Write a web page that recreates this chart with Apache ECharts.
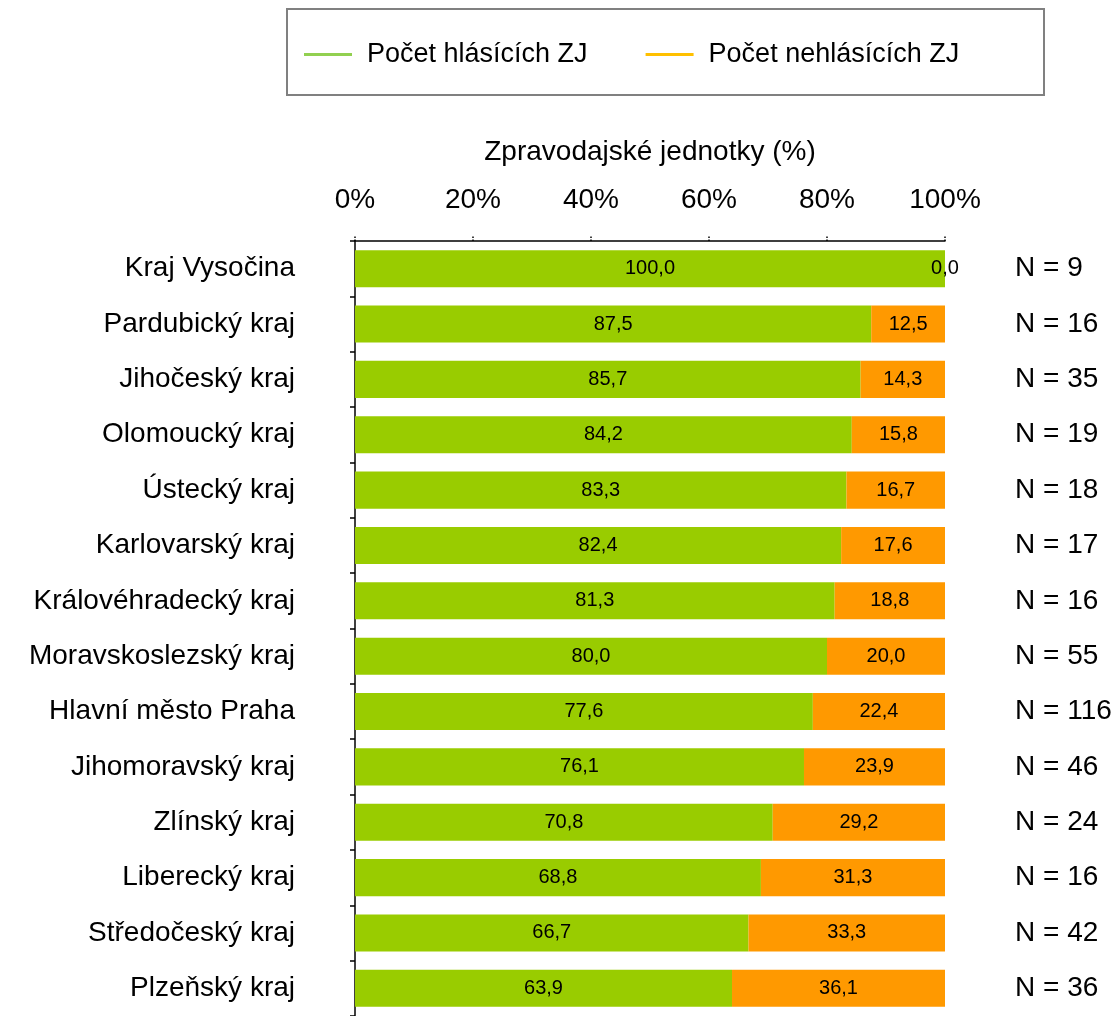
<!DOCTYPE html>
<html>
<head>
<meta charset="utf-8">
<script src="https://cdn.jsdelivr.net/npm/echarts@6/dist/echarts.min.js"></script>
<style>
  html, body { margin: 0; padding: 0; background: #fff; }
  #chart { width: 1119px; height: 1016px; }
</style>
</head>
<body>
<div id="chart"></div>
<script>
const categories = [
  "Kraj Vysočina", "Pardubický kraj", "Jihočeský kraj", "Olomoucký kraj",
  "Ústecký kraj", "Karlovarský kraj", "Královéhradecký kraj", "Moravskoslezský kraj",
  "Hlavní město Praha", "Jihomoravský kraj", "Zlínský kraj", "Liberecký kraj",
  "Středočeský kraj", "Plzeňský kraj"
];
const reporting = [100.0, 87.5, 85.7, 84.2, 83.3, 82.4, 81.3, 80.0, 77.6, 76.1, 70.8, 68.8, 66.7, 63.9];
const notReporting = [0.0, 12.5, 14.3, 15.8, 16.7, 17.6, 18.8, 20.0, 22.4, 23.9, 29.2, 31.3, 33.3, 36.1];
const counts = [9, 16, 35, 19, 18, 17, 16, 55, 116, 46, 24, 16, 42, 36];

const font = "Liberation Sans, Arial, sans-serif";
const fmt = p => p.value.toFixed(1).replace(".", ",");

const chart = echarts.init(document.getElementById("chart"));
chart.setOption({
  animation: false,
  graphic: [{
    type: "rect",
    shape: { x: 287, y: 9, width: 757, height: 86 },
    style: { fill: "none", stroke: "#808080", lineWidth: 2 },
    z: -1
  }],
  legend: {
    left: 299,
    top: 36,
    itemWidth: 48,
    itemHeight: 3,
    itemGap: 58,
    icon: "rect",
    textStyle: { fontFamily: font, fontSize: 27, color: "#000", padding: [0, 0, 0, 10] },
    data: [
      { name: "Počet hlásících ZJ", itemStyle: { color: "#92D050" } },
      { name: "Počet nehlásících ZJ", itemStyle: { color: "#FFC000" } }
    ]
  },
  grid: { left: 355, right: 174, top: 241, bottom: 0 },
  xAxis: {
    type: "value",
    position: "top",
    min: 0,
    max: 100,
    interval: 20,
    name: "Zpravodajské jednotky (%)",
    nameLocation: "middle",
    nameGap: 75,
    nameTextStyle: { fontFamily: font, fontSize: 28, color: "#000" },
    axisLine: { show: true, lineStyle: { color: "#000", width: 1.5 } },
    axisTick: { show: true, length: 5, lineStyle: { color: "#000", type: "dotted", width: 1.5 } },
    axisLabel: { fontFamily: font, fontSize: 28, color: "#000", margin: 27, formatter: "{value}%" },
    splitLine: { show: false }
  },
  yAxis: [{
    type: "category",
    data: categories,
    inverse: true,
    axisLine: { show: true, lineStyle: { color: "#000", width: 1.5 } },
    axisTick: { show: true, length: 5, lineStyle: { color: "#000", width: 1.5 } },
    axisLabel: { fontFamily: font, fontSize: 28, color: "#000", margin: 60, padding: [3, 0, 0, 0] }
  }, {
    type: "category",
    data: counts.map(n => "N = " + n),
    inverse: true,
    position: "right",
    axisLine: { show: false },
    axisTick: { show: false },
    axisLabel: { fontFamily: font, fontSize: 28, color: "#000", margin: 70, padding: [3, 0, 0, 0] }
  }],
  series: [{
    name: "Počet hlásících ZJ",
    type: "bar",
    stack: "total",
    data: reporting,
    barCategoryGap: "33%",
    itemStyle: { color: "#99CC00" },
    label: { show: true, position: "inside", fontFamily: font, fontSize: 20, color: "#000", formatter: fmt }
  }, {
    name: "Počet nehlásících ZJ",
    type: "bar",
    stack: "total",
    data: notReporting,
    itemStyle: { color: "#FF9900" },
    label: { show: true, position: "inside", fontFamily: font, fontSize: 20, color: "#000", formatter: fmt }
  }]
});
</script>
</body>
</html>
